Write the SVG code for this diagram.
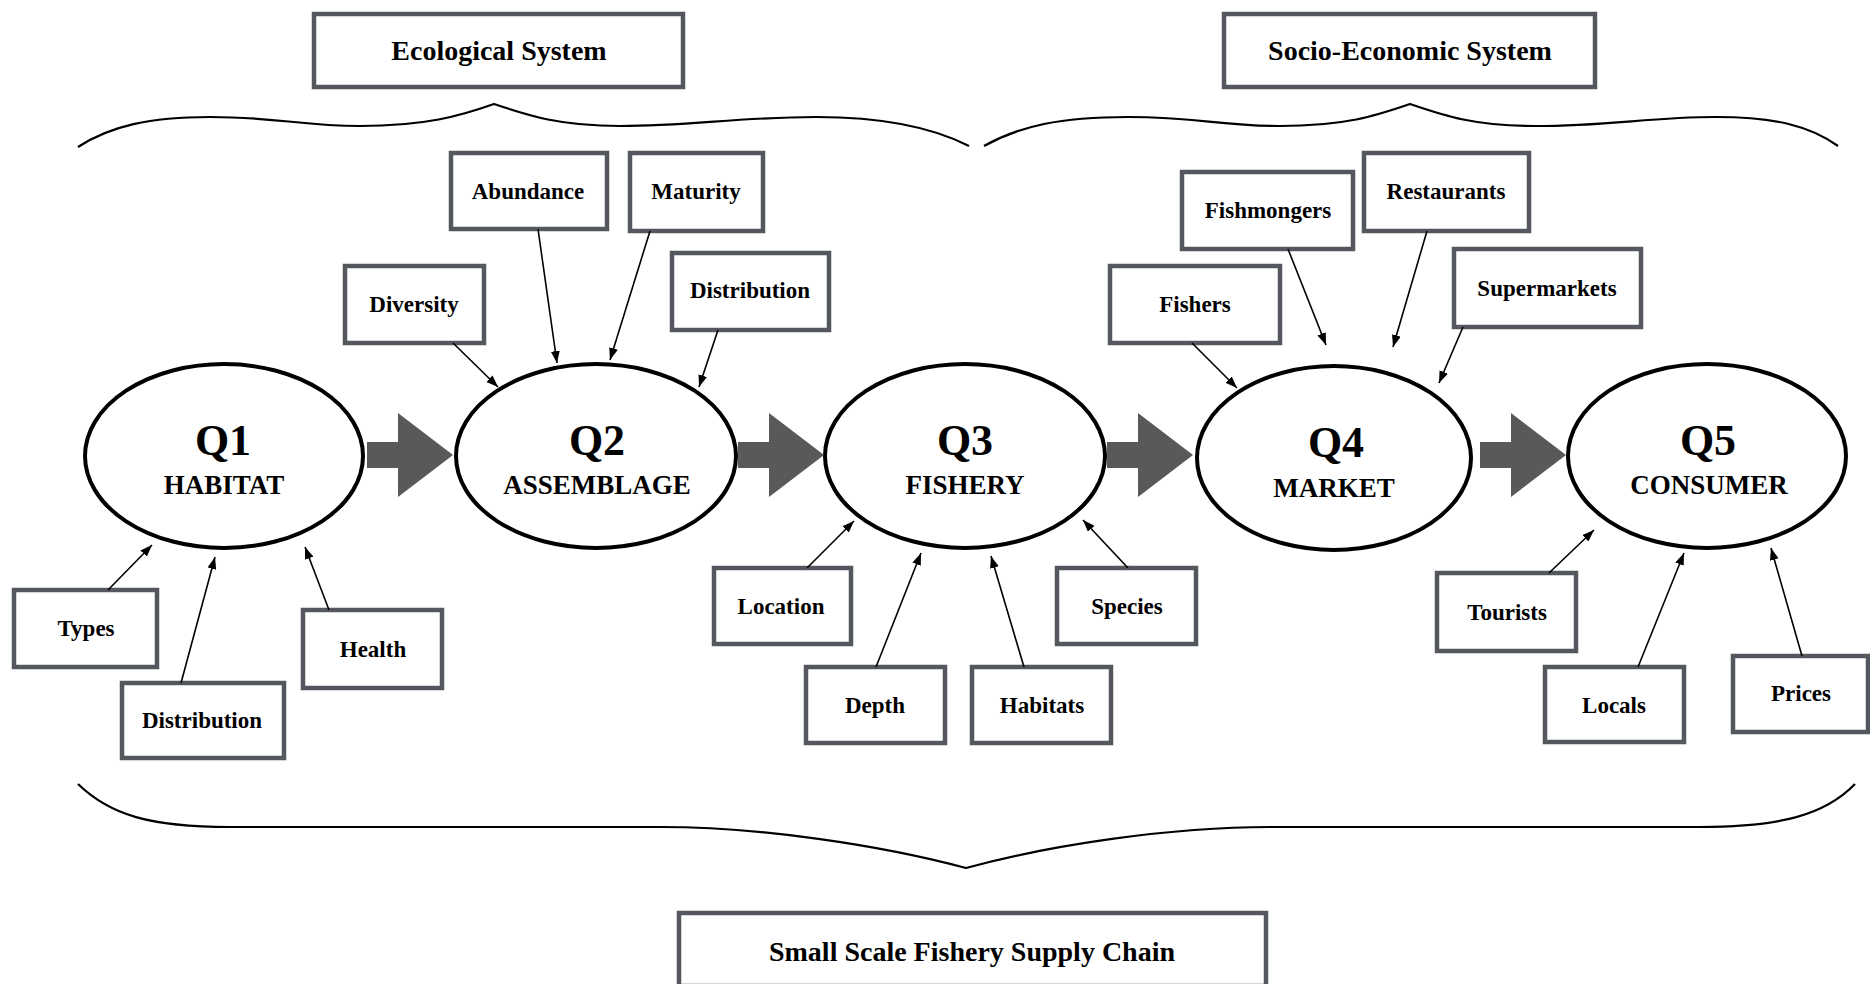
<svg xmlns="http://www.w3.org/2000/svg" width="1870" height="984" viewBox="0 0 1870 984">
  <style>
    .box { fill: #ffffff; stroke: #54585e; stroke-width: 4.5; }
    .stage { fill: #ffffff; stroke: #000000; stroke-width: 4; }
    .lbl { font-family: "Liberation Serif", "Times New Roman", serif; font-weight: bold; fill: #000000; text-anchor: middle; }
    .small { font-size: 23px; }
    .head { font-size: 28px; }
    .q { font-size: 44px; }
    .qname { font-size: 27px; }
    .link { fill: none; stroke: #000000; stroke-width: 1.6; marker-end: url(#tip); }
    .brace { fill: none; stroke: #000000; stroke-width: 2.2; }
    .flow { fill: #59585b; }
  </style>
  <defs>
    <marker id="tip" viewBox="0 0 12 9" refX="12" refY="4.5" markerWidth="12" markerHeight="9" markerUnits="userSpaceOnUse" orient="auto">
      <path d="M0,0 L12,4.5 L0,9 Z" fill="#000000"/>
    </marker>
    <path id="bigArrow" d="M0,-13 H31 V-42 L86,0 L31,42 V13 H0 Z"/>
  </defs>
  <rect width="1870" height="984" fill="#ffffff"/>

  <!-- system headers -->
  <g id="ecological-system">
    <rect class="box" x="314" y="14" width="369" height="73"/>
    <text class="lbl head" x="499" y="60">Ecological System</text>
  </g>
  <g id="socio-economic-system">
    <rect class="box" x="1224" y="14" width="371" height="73"/>
    <text class="lbl head" x="1410" y="60">Socio-Economic System</text>
  </g>
  <g id="supply-chain">
    <rect class="box" x="679" y="913" width="587" height="73"/>
    <text class="lbl head" x="972" y="961">Small Scale Fishery Supply Chain</text>
  </g>

  <!-- braces -->
  <g id="braces">
    <path class="brace" d="M78,147 C110,126 150,117 210,117 C280,117 300,126 360,126 C425,126 460,116 494,104 C530,116 560,126 620,126 C690,126 740,117 816,117 C880,117 930,126 969,146"/>
    <path class="brace" d="M984,146 C1020,126 1060,117 1128,117 C1200,117 1220,126 1280,126 C1345,126 1375,116 1410,104 C1445,116 1475,126 1535,126 C1610,126 1650,117 1716,117 C1775,117 1810,126 1838,146"/>
    <path class="brace" d="M78,784 C110,815 150,827 230,827 L660,827 C760,827 880,845 966,868 C1050,845 1170,827 1270,827 L1700,827 C1780,827 1825,815 1855,784"/>
  </g>

  <!-- stages -->
  <g id="q1">
    <ellipse class="stage" cx="224" cy="456" rx="139" ry="92"/>
    <text class="lbl q" x="223" y="455">Q1</text>
    <text class="lbl qname" x="224" y="494">HABITAT</text>
  </g>
  <g id="q2">
    <ellipse class="stage" cx="596" cy="456" rx="140" ry="92"/>
    <text class="lbl q" x="597" y="455">Q2</text>
    <text class="lbl qname" x="597" y="494">ASSEMBLAGE</text>
  </g>
  <g id="q3">
    <ellipse class="stage" cx="965" cy="456" rx="140" ry="92"/>
    <text class="lbl q" x="965" y="455">Q3</text>
    <text class="lbl qname" x="965" y="494">FISHERY</text>
  </g>
  <g id="q4">
    <ellipse class="stage" cx="1334" cy="458" rx="137" ry="92"/>
    <text class="lbl q" x="1336" y="457">Q4</text>
    <text class="lbl qname" x="1334" y="497">MARKET</text>
  </g>
  <g id="q5">
    <ellipse class="stage" cx="1707" cy="456" rx="139" ry="92"/>
    <text class="lbl q" x="1708" y="455">Q5</text>
    <text class="lbl qname" x="1709" y="494">CONSUMER</text>
  </g>

  <!-- Q1 attributes -->
  <g id="q1-types">
    <rect class="box" x="14" y="590" width="143" height="77"/>
    <text class="lbl small" x="86" y="636">Types</text>
  </g>
  <g id="q1-distribution">
    <rect class="box" x="122" y="683" width="162" height="75"/>
    <text class="lbl small" x="202" y="728">Distribution</text>
  </g>
  <g id="q1-health">
    <rect class="box" x="303" y="610" width="139" height="78"/>
    <text class="lbl small" x="373" y="657">Health</text>
  </g>

  <!-- Q2 attributes -->
  <g id="q2-diversity">
    <rect class="box" x="345" y="266" width="139" height="77"/>
    <text class="lbl small" x="414" y="312">Diversity</text>
  </g>
  <g id="q2-abundance">
    <rect class="box" x="451" y="153" width="156" height="76"/>
    <text class="lbl small" x="528" y="199">Abundance</text>
  </g>
  <g id="q2-maturity">
    <rect class="box" x="630" y="153" width="133" height="78"/>
    <text class="lbl small" x="696" y="199">Maturity</text>
  </g>
  <g id="q2-distribution">
    <rect class="box" x="672" y="253" width="157" height="77"/>
    <text class="lbl small" x="750" y="298">Distribution</text>
  </g>

  <!-- Q3 attributes -->
  <g id="q3-location">
    <rect class="box" x="714" y="568" width="137" height="76"/>
    <text class="lbl small" x="781" y="614">Location</text>
  </g>
  <g id="q3-depth">
    <rect class="box" x="806" y="667" width="139" height="76"/>
    <text class="lbl small" x="875" y="713">Depth</text>
  </g>
  <g id="q3-habitats">
    <rect class="box" x="972" y="667" width="139" height="76"/>
    <text class="lbl small" x="1042" y="713">Habitats</text>
  </g>
  <g id="q3-species">
    <rect class="box" x="1057" y="568" width="139" height="76"/>
    <text class="lbl small" x="1127" y="614">Species</text>
  </g>

  <!-- Q4 attributes -->
  <g id="q4-fishers">
    <rect class="box" x="1110" y="266" width="170" height="77"/>
    <text class="lbl small" x="1195" y="312">Fishers</text>
  </g>
  <g id="q4-fishmongers">
    <rect class="box" x="1182" y="172" width="171" height="77"/>
    <text class="lbl small" x="1268" y="218">Fishmongers</text>
  </g>
  <g id="q4-restaurants">
    <rect class="box" x="1364" y="153" width="165" height="78"/>
    <text class="lbl small" x="1446" y="199">Restaurants</text>
  </g>
  <g id="q4-supermarkets">
    <rect class="box" x="1454" y="249" width="187" height="78"/>
    <text class="lbl small" x="1547" y="296">Supermarkets</text>
  </g>

  <!-- Q5 attributes -->
  <g id="q5-tourists">
    <rect class="box" x="1437" y="573" width="139" height="78"/>
    <text class="lbl small" x="1507" y="620">Tourists</text>
  </g>
  <g id="q5-locals">
    <rect class="box" x="1545" y="667" width="139" height="75"/>
    <text class="lbl small" x="1614" y="713">Locals</text>
  </g>
  <g id="q5-prices">
    <rect class="box" x="1733" y="656" width="135" height="76"/>
    <text class="lbl small" x="1801" y="701">Prices</text>
  </g>

  <!-- connectors -->
  <g id="connectors">
    <use href="#bigArrow" class="flow" transform="translate(367,455)"/>
    <use href="#bigArrow" class="flow" transform="translate(738,455)"/>
    <use href="#bigArrow" class="flow" transform="translate(1107,455)"/>
    <use href="#bigArrow" class="flow" transform="translate(1480,455)"/>

    <line class="link" x1="108" y1="590" x2="152" y2="545"/>
    <line class="link" x1="181" y1="683" x2="215" y2="557"/>
    <line class="link" x1="329" y1="610" x2="305" y2="547"/>

    <line class="link" x1="453" y1="343" x2="498" y2="387"/>
    <line class="link" x1="538" y1="229" x2="557" y2="363"/>
    <line class="link" x1="650" y1="231" x2="610" y2="360"/>
    <line class="link" x1="718" y1="330" x2="699" y2="387"/>

    <line class="link" x1="807" y1="568" x2="854" y2="521"/>
    <line class="link" x1="876" y1="667" x2="921" y2="553"/>
    <line class="link" x1="1024" y1="667" x2="991" y2="556"/>
    <line class="link" x1="1128" y1="568" x2="1083" y2="520"/>

    <line class="link" x1="1192" y1="343" x2="1237" y2="388"/>
    <line class="link" x1="1288" y1="249" x2="1326" y2="345"/>
    <line class="link" x1="1427" y1="231" x2="1393" y2="347"/>
    <line class="link" x1="1463" y1="327" x2="1439" y2="383"/>

    <line class="link" x1="1549" y1="573" x2="1594" y2="530"/>
    <line class="link" x1="1638" y1="667" x2="1684" y2="553"/>
    <line class="link" x1="1802" y1="656" x2="1771" y2="548"/>
  </g>
</svg>
